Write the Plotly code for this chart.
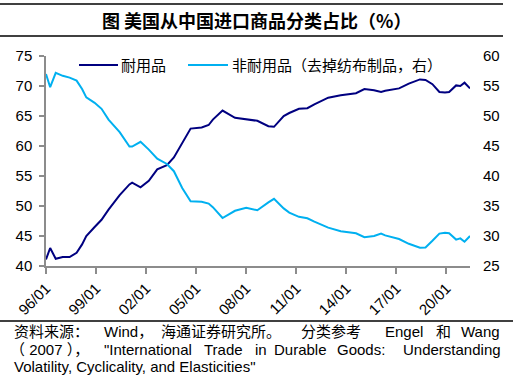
import plotly.graph_objects as go

# ---- data ----
dates = ["1996-01", "1996-04", "1996-08", "1997-01", "1997-06", "1997-11", "1998-03", "1998-06",
         "1998-12", "1999-05", "1999-10", "2000-06", "2001-01", "2001-03", "2001-09", "2002-03",
         "2002-09", "2003-04", "2003-09", "2004-03", "2004-09", "2005-05", "2005-10", "2006-01",
         "2006-08", "2007-05", "2008-01", "2008-09", "2009-05", "2009-09", "2010-04", "2010-08",
         "2011-03", "2011-09", "2012-02", "2012-12", "2013-09", "2014-08", "2015-02", "2015-09",
         "2016-02", "2016-05", "2017-03", "2017-10", "2018-06", "2018-10", "2019-03", "2019-08",
         "2019-12", "2020-03", "2020-08", "2020-11", "2021-02", "2021-06"]

durable = [41.1, 43.0, 41.2, 41.5, 41.5, 42.2, 43.6, 45.0,
           46.5, 47.7, 49.4, 51.8, 53.6, 53.9, 53.1, 54.2,
           56.1, 56.8, 58.1, 60.5, 62.9, 63.1, 63.5, 64.4,
           65.9, 64.7, 64.45, 64.2, 63.3, 63.2, 65.0, 65.5,
           66.2, 66.3, 66.95, 68.05, 68.45, 68.8, 69.5, 69.3,
           69.0, 69.2, 69.6, 70.4, 71.1, 71.0, 70.3, 69.0,
           68.9, 69.0, 70.1, 70.0, 70.55, 69.6]

nondurable = [57.0, 54.8, 57.2, 56.7, 56.4, 55.9, 54.5, 53.1,
              52.2, 51.2, 49.4, 47.3, 44.9, 44.9, 45.7, 44.4,
              42.9, 42.0, 40.8, 38.0, 35.8, 35.7, 35.4, 34.8,
              33.0, 34.2, 34.7, 34.3, 35.6, 36.2, 34.6, 33.9,
              33.2, 32.95, 32.4, 31.4, 30.8, 30.45, 29.8, 30.0,
              30.4, 30.1, 29.5, 28.7, 28.05, 28.1, 29.2, 30.4,
              30.55, 30.45, 29.4, 29.6, 29.05, 30.0]

name_durable = "耐用品"
name_nondurable = "非耐用品（去掉纺布制品，右）"
title_text = "图 美国从中国进口商品分类占比（%）"

left_ticks = [40, 45, 50, 55, 60, 65, 70, 75]
right_ticks = [25, 30, 35, 40, 45, 50, 55, 60]

NAVY = "#000080"
SKY = "#00B0F0"
AXIS = "#8c8c8c"
LATIN = "Liberation Sans, Arial, Noto Sans CJK SC, sans-serif"
CJK = "Noto Sans CJK SC, Liberation Sans, sans-serif"

# plot area in pixels: x 46..470, y 56..266
L, R, T, B = 46, 470, 56, 266


def PX(px):
    return (px - L) / (R - L)


def PY(py):
    return (B - py) / (B - T)


fig = go.Figure()
fig.add_trace(go.Scatter(x=dates, y=durable, name=name_durable, mode="lines",
                         line=dict(color=NAVY, width=2), showlegend=False, yaxis="y"))
fig.add_trace(go.Scatter(x=dates, y=nondurable, name=name_nondurable, mode="lines",
                         line=dict(color=SKY, width=2), showlegend=False, yaxis="y2"))

fig.update_layout(
    width=521, height=384,
    margin=dict(l=L, r=521 - R, t=T, b=384 - B),
    paper_bgcolor="white", plot_bgcolor="white",
    font=dict(family=LATIN, size=15, color="black"),
    xaxis=dict(type="date", range=["1996-01-01", "2021-06-01"],
               tick0="1996-01-01", dtick="M36", tickformat="%y/%m", tickangle=-45,
               ticks="outside", ticklen=6, tickcolor=AXIS, tickwidth=1.5,
               showline=True, linecolor=AXIS, linewidth=1.5, showgrid=False, zeroline=False,
               tickfont=dict(family=LATIN, size=15, color="black")),
    yaxis=dict(range=[40, 75], tickvals=left_ticks, ticks="outside", ticklen=5,
               tickcolor=AXIS, tickwidth=1.5, showline=True, linecolor=AXIS, linewidth=1.5,
               showgrid=False, zeroline=False, ticklabelstandoff=4,
               tickfont=dict(family=LATIN, size=15, color="black")),
    yaxis2=dict(range=[25, 60], tickvals=right_ticks, overlaying="y", side="right",
                showline=False, showgrid=False, zeroline=False, ticks="",
                ticklabelstandoff=12,
                tickfont=dict(family=LATIN, size=15, color="black")),
)

shapes = []
# horizontal rules
for y, x1 in [(4, 503), (36, 503), (321, 513)]:
    shapes.append(dict(type="line", xref="paper", yref="paper", x0=PX(0), x1=PX(x1),
                       y0=PY(y), y1=PY(y), line=dict(color="black", width=1.4)))
# manual legend symbols
shapes.append(dict(type="line", xref="paper", yref="paper", x0=PX(79), x1=PX(118),
                   y0=PY(65), y1=PY(65), line=dict(color=NAVY, width=2)))
shapes.append(dict(type="line", xref="paper", yref="paper", x0=PX(188), x1=PX(228),
                   y0=PY(65), y1=PY(65), line=dict(color=SKY, width=2)))
fig.update_layout(shapes=shapes)

ann = []


def text(s, x, y, size=15, family=LATIN, anchor="left", bold=False):
    if bold:
        s = "<b>" + s + "</b>"
    ann.append(dict(text=s, x=PX(x), y=PY(y), xref="paper", yref="paper",
                    xanchor=anchor, yanchor="middle", showarrow=False,
                    borderpad=0, borderwidth=0,
                    font=dict(family=family, size=size, color="black")))


# title
text(title_text, 256, 20, size=18, family=CJK, anchor="center", bold=True)
# legend texts
text(name_durable, 121, 65, size=15, family=CJK)
text(name_nondurable, 232, 65, size=15, family=CJK)

# source note (justified lines emulated by word placement)
y1, y2, y3 = 331, 349, 366
for s, x, a in [("资料来源：", 14, "left"), ("Wind，", 104, "left"),
                ("海通证券研究所。", 161, "left"), ("分类参考", 301, "left"),
                ("Engel", 385, "left"), ("和", 436, "left"), ("Wang", 500, "right")]:
    text(s, x, y1, anchor=a)
for s, x, a in [("（ 2007 ），", 10, "left"), ("\"International", 104, "left"),
                ("Trade", 204, "left"), ("in", 255, "left"), ("Durable", 274, "left"),
                ("Goods:", 337, "left"), ("Understanding", 501, "right")]:
    text(s, x, y2, anchor=a)
text("Volatility, Cyclicality, and Elasticities\"", 14, y3)

fig.update_layout(annotations=ann)

fig.write_html("out.html", config={"displayModeBar": False},
               post_script="document.body.style.margin='0';document.body.style.overflow='hidden';")
